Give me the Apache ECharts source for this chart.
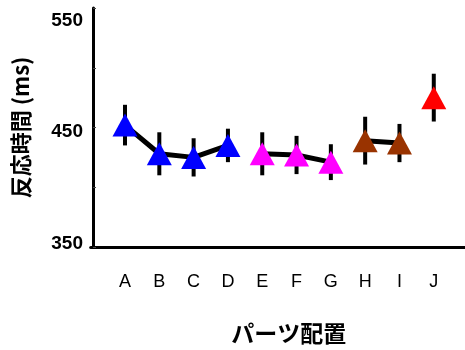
<!DOCTYPE html>
<html>
<head>
<meta charset="utf-8">
<script src="https://cdn.jsdelivr.net/npm/echarts@6/dist/echarts.min.js"></script>
<style>
  html, body { margin: 0; padding: 0; background: #fff; }
  #chart { width: 465px; height: 350px; }
</style>
</head>
<body>
<div id="chart"></div>
<script>
// Part layouts A–J, mean reaction time (ms) and error-bar half widths
const categories = ['A', 'B', 'C', 'D', 'E', 'F', 'G', 'H', 'I', 'J'];
const meanRT = [452, 428, 425, 435, 428, 427, 421, 439, 437, 475];
const errRT = [17, 18, 16, 14, 18, 16, 15, 20, 16, 20];
// marker colour per layout group
const markerColors = ['#0000ff', '#0000ff', '#0000ff', '#0000ff',
                      '#ff00ff', '#ff00ff', '#ff00ff',
                      '#993300', '#993300', '#ff0000'];
// layouts joined by a line (indices into categories)
const groups = [[0, 1, 2, 3], [4, 5, 6], [7, 8]];
const yTickLabels = [350, 450, 550];

const chart = echarts.init(document.getElementById('chart'));

const pts = categories.map((c, i) => [i + 1, meanRT[i]]);

const lineSeries = groups.map(g => ({
  type: 'line',
  data: g.map(i => pts[i]),
  symbol: 'none',
  lineStyle: { color: '#000', width: 5 },
  z: 3,
  silent: true
}));

const tickFont = { fontSize: 19, fontWeight: 'bold', fontFamily: 'Liberation Sans', color: '#000' };
const labelRich = {
  top: Object.assign({ padding: [26, 0, 0, 0] }, tickFont),
  mid: Object.assign({ padding: [8, 0, 0, 0] }, tickFont),
  bot: Object.assign({ padding: [0, 0, 6, 0] }, tickFont)
};

chart.setOption({
  animation: false,
  backgroundColor: '#fff',
  grid: { left: 90.7, right: 0, top: 8, bottom: 100 },
  xAxis: {
    type: 'value',
    min: 0,
    max: 10.91,
    interval: 1,
    splitLine: { show: false },
    axisTick: { show: false },
    axisLine: { show: true, lineStyle: { color: '#000', width: 3 } },
    axisLabel: {
      margin: 26,
      fontSize: 18,
      fontFamily: 'Liberation Sans',
      color: '#000',
      showMaxLabel: false,
      formatter: v => (v >= 1 && v <= categories.length) ? categories[v - 1] : ''
    },
    name: 'パーツ配置',
    nameLocation: 'middle',
    nameGap: 75,
    nameTextStyle: {
      fontSize: 23, fontWeight: 'bold', fontFamily: 'Noto Sans CJK JP', color: '#000',
      padding: [0, 0, 0, 22]
    }
  },
  yAxis: {
    type: 'value',
    min: 350,
    max: 550,
    interval: 50,
    offset: -2.3,
    splitLine: { show: false },
    axisLine: { show: true, lineStyle: { color: '#000', width: 3 } },
    axisTick: { show: true, inside: true, length: 3, lineStyle: { color: '#444', width: 1 } },
    axisLabel: {
      margin: 10,
      rich: labelRich,
      formatter: v => {
        if (!yTickLabels.includes(v)) return '';
        if (v === 550) return '{top|' + v + '}';
        if (v === 450) return '{mid|' + v + '}';
        return '{bot|' + v + '}';
      }
    },
    name: '反応時間 (ms)',
    nameLocation: 'middle',
    nameRotate: 90,
    nameGap: 61,
    nameTextStyle: {
      fontSize: 22, fontWeight: 'bold', fontFamily: 'Noto Sans CJK JP', color: '#000',
      padding: [0, 0, 0, 0]
    }
  },
  series: [
    ...lineSeries,
    {
      type: 'custom',
      z: 4,
      silent: true,
      data: pts.map((p, i) => [p[0], p[1] - errRT[i], p[1] + errRT[i]]),
      renderItem: (params, api) => {
        const lo = api.coord([api.value(0), api.value(1)]);
        const hi = api.coord([api.value(0), api.value(2)]);
        return {
          type: 'line',
          shape: { x1: lo[0], y1: lo[1], x2: hi[0], y2: hi[1] },
          style: { stroke: '#000', lineWidth: 4 }
        };
      }
    },
    {
      type: 'scatter',
      z: 5,
      symbol: 'triangle',
      symbolSize: [25, 23],
      itemStyle: { opacity: 1 },
      data: pts.map((p, i) => ({ value: p, itemStyle: { color: markerColors[i], opacity: 1 } }))
    }
  ]
});
</script>
</body>
</html>
